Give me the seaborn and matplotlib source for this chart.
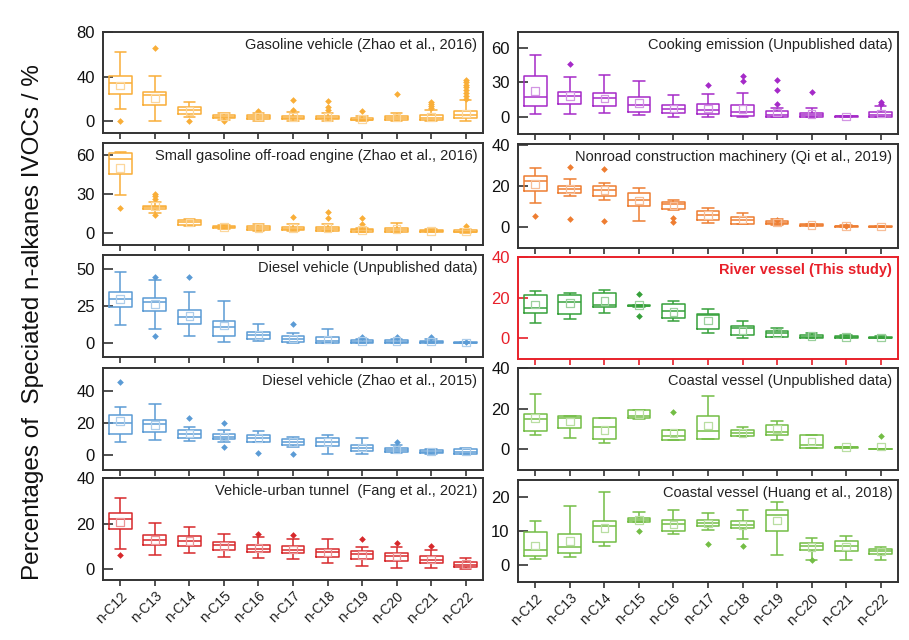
import numpy as np
import pandas as pd
import matplotlib
matplotlib.use("Agg")
import matplotlib.pyplot as plt
import matplotlib.colors as mcolors
import seaborn as sns

# ---------------- data ----------------
categories = ["n-C12", "n-C13", "n-C14", "n-C15", "n-C16", "n-C17",
              "n-C18", "n-C19", "n-C20", "n-C21", "n-C22"]

# each box: [whisker low, Q1, median, Q3, whisker high]
gas_veh_stats = [[11, 25, 34, 40.5, 62], [0, 15, 23.5, 26.7, 40.5], [4, 6.8, 10, 12.7, 17],
                 [1.5, 3, 4.4, 5.5, 7.5], [0.5, 2.5, 4.2, 5.5, 8], [0.5, 2, 3.5, 5, 8.5],
                 [0.5, 2, 3.5, 5, 8], [0, 0.9, 1.5, 3, 5], [0, 1, 3, 5, 7.5],
                 [0, 1, 3, 5.5, 10], [0, 3, 5.9, 9.8, 19]]
gas_veh_mean = [32, 21, 9.5, 4.3, 4.5, 4, 4, 2, 3.5, 4, 7]
gas_veh_out = [[0], [65.5], [0], [0.3], [9.5], [10.5, 19.5], [10, 12.5, 18], [9], [25],
               [12, 14, 16, 17.5], [20.5, 23, 25.5, 28, 30.5, 33, 35.5, 37.5]]

gas_eng_stats = [[29.5, 45.5, 57, 61.5, 62.5], [15.5, 18.3, 19.5, 21, 24], [5.5, 6, 8, 9.9, 10.7],
                 [2.9, 3.4, 4.3, 5.2, 6], [1.6, 2.1, 3.9, 5.5, 6.5], [1.3, 1.8, 3, 4.7, 6.5],
                 [1.3, 1.6, 3, 4.7, 6.5], [0.3, 0.8, 1.8, 2.9, 3.5], [0.3, 0.8, 2.1, 3.9, 7.3],
                 [0.2, 0.3, 1.2, 2.1, 2.9], [0.1, 0.3, 0.8, 1.8, 2.9]]
gas_eng_mean = [50, 20.5, 8, 4.3, 3.8, 3.5, 3.6, 2, 2.8, 1.2, 1]
gas_eng_out = [[19], [14, 26, 28, 30], [], [], [], [12.5], [11, 16], [6.5, 11.5], [], [], [5]]

dsl_unp_stats = [[12, 24.5, 30, 34.8, 48], [9.8, 21.6, 28, 30.2, 42.7], [4.5, 12.7, 17.5, 22.3, 34.8],
                 [0.7, 4.8, 11, 15, 28.6], [1.4, 3, 5.2, 7.5, 13.2], [0, 0.7, 3, 4.8, 7],
                 [0, 0, 1.4, 4.1, 9.8], [0, 0, 0.9, 1.8, 3], [0, 0, 1, 1.8, 3],
                 [0, 0.2, 0.8, 1.4, 2.5], [0, 0, 0.2, 0.6, 1]]
dsl_unp_mean = [30, 26.5, 18.4, 12, 5.5, 3, 2.5, 1.2, 1.2, 1, 0.4]
dsl_unp_out = [[], [4.5, 45], [44.5], [], [], [13], [], [4], [4], [3.8], [0.8]]

dsl_zhao_stats = [[8, 13, 20, 25.3, 30.5], [9.5, 14.3, 19.6, 22.1, 32], [8.8, 10.9, 13.3, 15.8, 17.5],
                  [8.4, 9.9, 11.5, 13, 15.8], [8, 8.4, 10.9, 12.4, 15.2], [5.3, 6.3, 8.4, 9.9, 11.2],
                  [0.4, 5.9, 8.4, 10.5, 12.4], [0.4, 2.7, 4.6, 6.3, 10.5], [1, 1.7, 3.2, 4.6, 6.3],
                  [0.6, 1, 2.1, 3.2, 4], [0.4, 0.6, 2, 3.6, 4.6]]
dsl_zhao_mean = [21.5, 19, 13.5, 11.5, 10.5, 8.2, 8, 4.8, 3.3, 2.1, 2.1]
dsl_zhao_out = [[45.7], [], [23], [5.3, 20], [1], [0.4], [], [], [8], [], []]

tunnel_stats = [[9, 17.5, 22, 24.7, 31.4], [6.1, 10.5, 12.7, 14.9, 20.3], [6.9, 10.1, 12.4, 14.5, 18.5],
                [5.4, 8.3, 10.5, 12, 15.6], [4.7, 7.6, 9, 10.5, 14.2], [4.4, 7.2, 8.6, 10.1, 13.4],
                [2.5, 5.4, 7.6, 9, 13.4], [1.5, 4.4, 6.5, 7.9, 9.8], [0.7, 3.6, 5.6, 7.2, 9.8],
                [0.3, 2.5, 4.2, 5.7, 8.3], [0, 1, 1.8, 3.2, 4.8]]
tunnel_mean = [20.7, 12.8, 12.3, 10.3, 9.2, 8.7, 7.4, 6.3, 5.5, 4.3, 2.2]
tunnel_out = [[6.4], [], [], [], [15.6], [14.9], [], [13.4], [11.5], [10], []]

cook_stats = [[2.6, 9.4, 17.4, 35.3, 54], [2.9, 10.9, 18, 21.8, 34.4], [3.5, 9.4, 16.5, 21.2, 36.5],
              [2, 4.4, 10, 17.4, 31.5], [0, 3.5, 7, 10, 19.1], [0, 2.6, 6.5, 10.9, 20.3],
              [0, 0.6, 4.1, 10, 21.2], [0, 0, 2, 5, 8], [0, 0, 2, 3.5, 8],
              [0.2, 0.4, 0.5, 0.6, 0.8], [0, 0, 2, 4.4, 9.4]]
cook_mean = [22.6, 18, 16, 12.4, 7.5, 7.5, 7, 4, 2.5, 0.5, 3]
cook_out = [[], [46], [], [], [], [27.6], [31.5, 35.3], [10.9, 23.5, 32], [22], [], [11, 13]]

nonroad_stats = [[11.5, 17.5, 22.6, 25, 29], [15.2, 16.4, 18.5, 20.2, 23.4], [13.4, 15.2, 18, 20.2, 21.6],
                 [3, 10.3, 13.1, 16.4, 18.9], [8.2, 9, 11, 12.3, 13.4], [2.1, 3.3, 5.7, 7.7, 9.5],
                 [1.3, 1.6, 3.6, 4.9, 6.9], [0.8, 1.3, 2.1, 2.8, 4.1], [0.4, 0.5, 0.8, 1.3, 1.6],
                 [0, 0.1, 0.3, 0.7, 1], [0, 0.05, 0.2, 0.5, 0.7]]
nonroad_mean = [21, 18.5, 18, 13, 10.5, 5.8, 3.6, 2.2, 0.9, 0.4, 0.3]
nonroad_out = [[5.2], [4.1, 29.5], [2.8, 28.4], [], [2.5, 4.6], [], [], [3.5], [], [0.6], []]

river_stats = [[7.4, 12.3, 15.1, 21.3, 23.3], [9.3, 12, 18, 21.6, 22.6], [12.3, 15.6, 16.5, 22.5, 23.8],
               [15.6, 15.8, 16.1, 16.3, 16.5], [8.5, 9.8, 13.5, 16.7, 18.4], [2.5, 4.4, 11.5, 12, 14.3],
               [0, 1.6, 4.9, 6.1, 8.7], [0.5, 0.8, 2.5, 3.8, 5.2], [0, 0.2, 0.8, 1.6, 2.8],
               [0, 0.1, 0.5, 1.1, 1.5], [0, 0.05, 0.3, 0.8, 1.1]]
river_mean = [16.7, 17.5, 18.5, 16.5, 13.1, 8.7, 3.8, 2.5, 1, 0.6, 0.4]
river_out = [[], [], [], [11.1, 21.8], [], [], [], [], [], [], []]

coast_unp_stats = [[6.8, 9.1, 14.9, 17.4, 27.4], [5.5, 10.7, 15.4, 16.5, 16.5], [3, 5, 11.2, 15.4, 15.4],
                   [15, 15.4, 16.2, 19.5, 19.5], [4.6, 4.6, 6.3, 9.6, 9.6], [5.1, 5.1, 9.1, 16.5, 26.4],
                   [6.3, 6.3, 7.9, 9.6, 11.2], [4.6, 7.1, 8.3, 12.1, 14.2], [0.8, 0.8, 2.1, 6.8, 6.8],
                   [0.7, 0.8, 1, 1.2, 1.3], [0, 0, 0.05, 0.1, 0.2]]
coast_unp_mean = [15.4, 13.7, 9.6, 17.5, 7.9, 11.7, 7.9, 10, 3.8, 1, 1.3]
coast_unp_out = [[], [], [], [], [18.3], [], [], [], [], [], [6.6]]

coast_huang_stats = [[1.7, 2.5, 4.4, 9.5, 12.7], [2.2, 3.4, 5.2, 9, 17.2], [5.6, 6.6, 11.3, 12.7, 21.4],
                     [12.5, 12.5, 13.2, 13.7, 15.4], [9, 9.8, 12.1, 13.2, 16.2], [10.1, 11.3, 12.3, 13, 15.2],
                     [7.5, 10.8, 11.8, 12.9, 16.2], [2.9, 10, 14.5, 16.2, 18.3], [1.5, 4.2, 5.4, 6.4, 7.8],
                     [1.5, 3.9, 5.4, 6.9, 8.5], [1.5, 3.1, 3.9, 4.7, 5.1]]
coast_huang_mean = [5.6, 6.9, 10.8, 13.1, 11.8, 12.1, 11.7, 13, 5.2, 5.3, 3.9]
coast_huang_out = [[], [], [], [9.8], [], [6.1], [5.6], [], [1.3], [], []]

titles = ["Gasoline vehicle (Zhao et al., 2016)",
          "Small gasoline off-road engine (Zhao et al., 2016)",
          "Diesel vehicle (Unpublished data)",
          "Diesel vehicle (Zhao et al., 2015)",
          "Vehicle-urban tunnel  (Fang et al., 2021)",
          "Cooking emission (Unpublished data)",
          "Nonroad construction machinery (Qi et al., 2019)",
          "River vessel (This study)",
          "Coastal vessel (Unpublished data)",
          "Coastal vessel (Huang et al., 2018)"]
yticks = [[0, 40, 80], [0, 30, 60], [0, 25, 50], [0, 20, 40], [0, 20, 40],
          [0, 30, 60], [0, 20, 40], [0, 20, 40], [0, 20, 40], [0, 10, 20]]
ylabel = "Percentages of  Speciated n-alkanes IVOCs / %"

# ---------------- style / layout ----------------
sns.set_style("ticks")
plt.rcParams["font.family"] = ["Liberation Sans", "DejaVu Sans"]

colors = ["#F9AE38", "#F9AE38", "#5B9BD5", "#5B9BD5", "#D7282B",
          "#A52AC8", "#EE7D31", "#36A03A", "#73BD45", "#73BD45"]
ylims = [(-10.3, 80), (-9.5, 69.3), (-9.5, 59.7), (-9.5, 54.8), (-4.8, 40.2),
         (-14.8, 73.9), (-10.3, 40.6), (-10.3, 40.2), (-10.3, 40.2), (-5.1, 24.9)]
# axes boxes in pixels: left, top, right, bottom
W, H = 909, 640
boxes_px = [(103, 32, 483, 133), (103, 143, 483, 245), (103, 255, 483, 357),
            (103, 368, 483, 470), (103, 478, 483, 580),
            (518, 32, 898, 134), (518, 144, 898, 248), (518, 257, 898, 359),
            (518, 368, 898, 470), (518, 480, 898, 582)]
highlight = 7
red = "#E8202A"

all_stats = [gas_veh_stats, gas_eng_stats, dsl_unp_stats, dsl_zhao_stats, tunnel_stats,
             cook_stats, nonroad_stats, river_stats, coast_unp_stats, coast_huang_stats]
all_means = [gas_veh_mean, gas_eng_mean, dsl_unp_mean, dsl_zhao_mean, tunnel_mean,
             cook_mean, nonroad_mean, river_mean, coast_unp_mean, coast_huang_mean]
all_outs = [gas_veh_out, gas_eng_out, dsl_unp_out, dsl_zhao_out, tunnel_out,
            cook_out, nonroad_out, river_out, coast_unp_out, coast_huang_out]

fig = plt.figure(figsize=(W / 100, H / 100), dpi=100)


def lighten(c, f=0.5):
    r, g, b = mcolors.to_rgb(c)
    return (r + (1 - r) * f, g + (1 - g) * f, b + (1 - b) * f)


for k in range(10):
    l, t, r, b = boxes_px[k]
    ax = fig.add_axes([l / W, 1 - b / H, (r - l) / W, (b - t) / H])
    col = colors[k]
    stats = all_stats[k]
    box_df = pd.DataFrame([(categories[i], v) for i, s in enumerate(stats) for v in s],
                          columns=["species", "value"])
    sns.boxplot(data=box_df, x="species", y="value", order=categories, ax=ax,
                fill=False, color=col, linewidth=1.1, width=0.66,
                whis=(0, 100), showfliers=False)
    out_df = pd.DataFrame([(categories[i], v) for i, o in enumerate(all_outs[k]) for v in o],
                          columns=["species", "value"])
    if len(out_df):
        sns.stripplot(data=out_df, x="species", y="value", order=categories, ax=ax,
                      jitter=False, marker="D", size=3.4, color=col, linewidth=0, zorder=4)
    ax.scatter(np.arange(len(categories)), all_means[k], marker="s", s=30,
               facecolors="none", edgecolors=lighten(col, 0.5), linewidths=0.9, zorder=5)

    ax.set_xlim(-0.5, len(categories) - 0.5)
    ax.set_ylim(*ylims[k])
    ax.set_yticks(yticks[k])
    ax.set_xlabel("")
    ax.set_ylabel("")
    frame_col = red if k == highlight else "#333333"
    for sp in ax.spines.values():
        sp.set_visible(True)
        sp.set_color(frame_col)
        sp.set_linewidth(1.4)
    ax.tick_params(axis="y", direction="in", length=7, width=1.2, pad=6,
                   labelsize=12, colors=frame_col)
    ax.tick_params(axis="x", direction="out", length=4.5, width=1.2, pad=2,
                   labelsize=10, colors=frame_col)
    if k == highlight:
        ax.tick_params(axis="y", labelcolor=red)
    else:
        ax.tick_params(axis="both", labelcolor="#111111")
    if k in (4, 9):
        plt.setp(ax.get_xticklabels(), rotation=45, ha="right", rotation_mode="anchor",
                 color="#222222")
    else:
        ax.tick_params(axis="x", labelbottom=False)
    if k == highlight:
        ax.text(0.985, 0.875, titles[k], transform=ax.transAxes, ha="right", va="center",
                fontsize=10.5, color=red, fontweight="bold")
    else:
        ax.text(0.985, 0.875, titles[k], transform=ax.transAxes, ha="right", va="center",
                fontsize=10.5, color="#222222")

fig.text(33 / W, 1 - 322 / H, ylabel, rotation=90, ha="center", va="center",
         fontsize=17.5, color="#111111")

fig.savefig("out.png", dpi=100)
